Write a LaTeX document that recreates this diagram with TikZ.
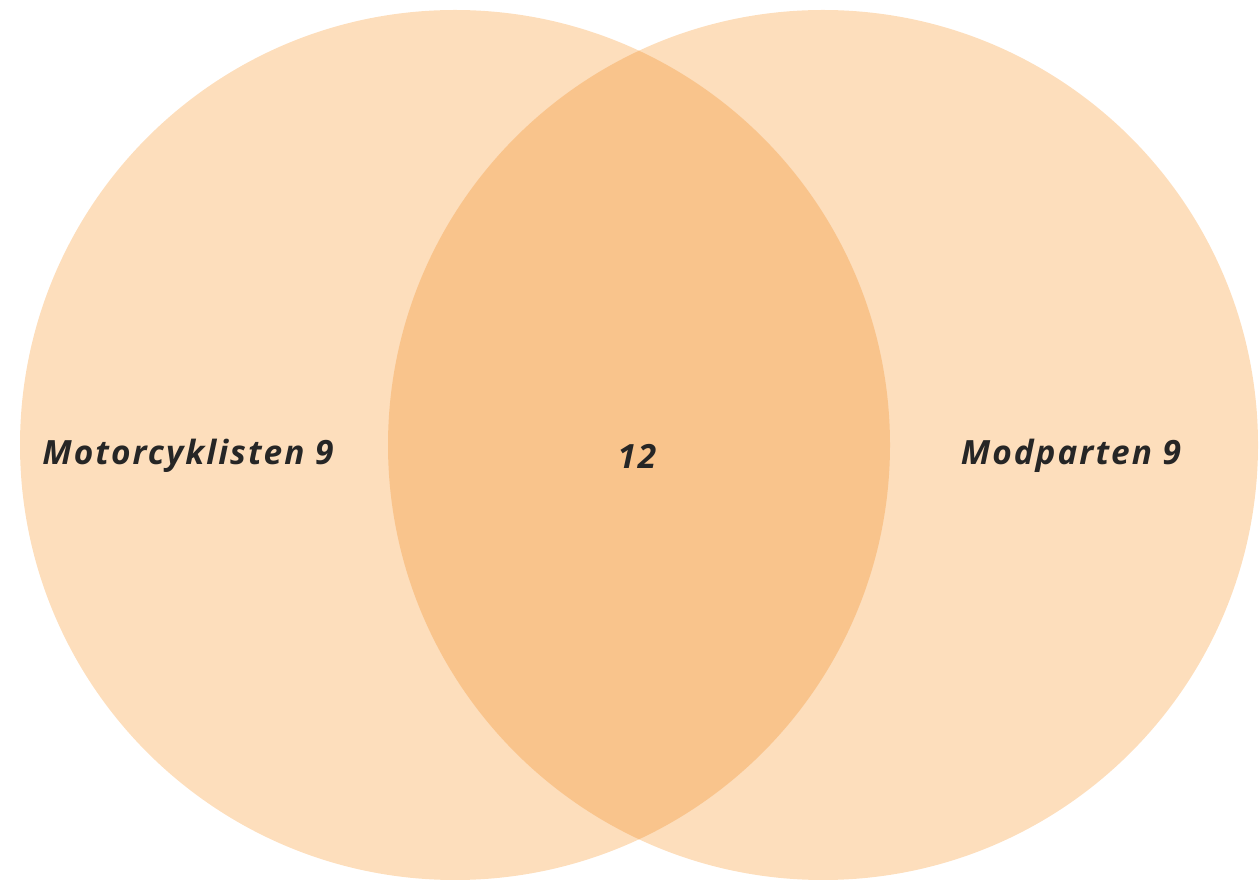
\documentclass[tikz,border=0pt]{standalone}
\usepackage{fontspec}
\setsansfont{Open Sans}[LetterSpace=6]
\definecolor{peach}{RGB}{253,222,188}
\definecolor{peachdark}{RGB}{249,196,140}
\begin{document}
\begin{tikzpicture}[label/.style={font=\sffamily\bfseries\itshape\fontsize{19}{22}\selectfont, text=black!85}]
\useasboundingbox (0,0) rectangle (25.18,17.58);
\fill [peach] (9.1,8.68) circle (8.7);
\fill [peach] (16.46,8.68) circle (8.7);
\begin{scope}
\clip (9.1,8.68) circle (8.7);
\fill [peachdark] (16.46,8.68) circle (8.7);
\end{scope}
\node (left) at (3.76,8.46)[label]{Motorcyklisten 9};
\node (mid) at (12.74,8.46)[label]{12};
\node (right) at (21.42,8.46)[label]{Modparten 9};
\end{tikzpicture}
\end{document}
